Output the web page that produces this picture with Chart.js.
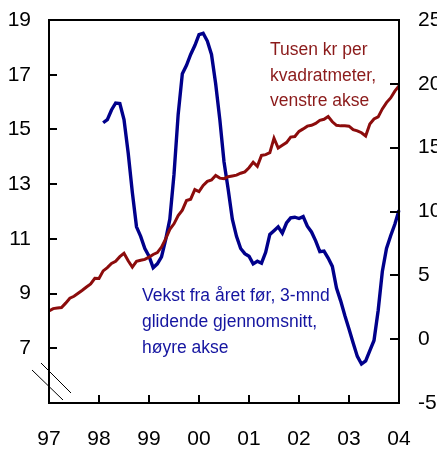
<!DOCTYPE html>
<html>
<head>
<meta charset="utf-8">
<script src="https://cdn.jsdelivr.net/npm/chart.js@4/dist/chart.umd.min.js"></script>
<style>
html,body{margin:0;padding:0;background:#fff;}
canvas{display:block;}
</style>
</head>
<body>
<canvas id="c" width="437" height="449"></canvas>
<script>
// ---- Data (monthly, Jan 1997 .. Jan 2004) ----
const yearLabels = ['97','98','99','00','01','02','03','04'];
const startYear = 1997;
const nMonths = 85;

// Price, thousand NOK per square metre (left axis)
const priceSqm = [
  8.36,8.45,8.47,8.49,8.65,8.83,8.90,9.01,9.12,9.24,9.35,9.56,
  9.55,9.83,9.95,10.10,10.18,10.35,10.47,10.20,9.97,10.18,10.22,10.25,
  10.33,10.43,10.50,10.70,11.00,11.35,11.55,11.85,12.05,12.40,12.45,12.80,
  12.73,12.95,13.10,13.15,13.32,13.22,13.20,13.27,13.30,13.33,13.40,13.45,
  13.60,13.80,13.65,14.05,14.08,14.15,14.68,14.32,14.42,14.52,14.72,14.74,
  14.93,15.02,15.12,15.15,15.22,15.33,15.37,15.47,15.28,15.15,15.13,15.13,
  15.12,14.99,14.95,14.88,14.76,15.20,15.38,15.46,15.75,15.98,16.15,16.40,16.59
];

// Growth from previous year, 3-month moving average, % (right axis)
const growth = [
  null,null,null,null,null,null,null,null,null,null,null,null,
  null,16.95,17.20,17.95,18.50,18.45,17.20,14.60,11.50,8.80,8.05,7.10,
  6.50,5.60,5.90,6.45,7.80,9.40,12.90,17.60,20.80,21.45,22.30,23.00,
  23.85,23.96,23.35,22.30,20.00,17.20,13.90,11.75,9.40,8.05,7.10,6.70,
  6.50,5.90,6.10,5.95,6.80,8.20,8.50,8.80,8.30,9.10,9.50,9.55,
  9.45,9.60,8.85,8.40,7.70,6.85,6.90,6.35,5.70,4.00,3.00,1.85,
  0.80,-0.30,-1.35,-1.95,-1.70,-0.90,-0.10,2.25,5.30,7.10,8.10,9.00,10.10
];

const leftTicks = [7,9,11,13,15,17,19];
const rightTicks = [-5,0,5,10,15,20,25];

const months = [];
for (let i = 0; i < nMonths; i++) {
  const y = startYear + Math.floor(i / 12);
  const m = (i % 12) + 1;
  months.push(y + '-' + (m < 10 ? '0' + m : m));
}

const tickFont = {family:'"Liberation Sans", Arial, sans-serif', size:21};

const RED = '#8c0c0c';
const BLUE = '#00008b';

const framePlugin = {
  id: 'frame',
  afterDatasetsDraw(chart) {
    const ctx = chart.ctx;
    const a = chart.chartArea;
    const x = chart.scales.x, yl = chart.scales.y, yr = chart.scales.y1;
    ctx.save();
    ctx.strokeStyle = '#000';
    ctx.lineWidth = 2;
    ctx.strokeRect(a.left, a.top, a.right - a.left, a.bottom - a.top);
    ctx.beginPath();
    leftTicks.forEach(v => {
      if (v >= 19) return;
      const p = Math.round(yl.getPixelForValue(v));
      ctx.moveTo(a.left, p); ctx.lineTo(a.left + 8, p);
    });
    rightTicks.forEach(v => {
      if (v <= -5 || v >= 25) return;
      const p = Math.round(yr.getPixelForValue(v));
      ctx.moveTo(a.right, p); ctx.lineTo(a.right - 9, p);
    });
    for (let i = 12; i < nMonths - 1; i += 12) {
      const p = Math.round(x.getPixelForValue(i));
      ctx.moveTo(p, a.bottom); ctx.lineTo(p, a.bottom - 8);
    }
    ctx.stroke();
    // axis break marks
    ctx.lineWidth = 1;
    ctx.beginPath();
    ctx.moveTo(32, 370); ctx.lineTo(63, 400);
    ctx.moveTo(41, 363); ctx.lineTo(71, 393);
    ctx.stroke();
    // annotations
    ctx.font = '17.5px "Liberation Sans", Arial, sans-serif';
    ctx.textAlign = 'left';
    ctx.textBaseline = 'alphabetic';
    ctx.fillStyle = '#8b1a1a';
    ctx.fillText('Tusen kr per', 270, 55);
    ctx.fillText('kvadratmeter,', 270, 80.5);
    ctx.fillText('venstre akse', 270, 106);
    ctx.fillStyle = '#1414a0';
    ctx.fillText('Vekst fra året før, 3-mnd', 142, 301);
    ctx.fillText('glidende gjennomsnitt,', 142, 327);
    ctx.fillText('høyre akse', 142, 353);
    ctx.restore();
  }
};

new Chart(document.getElementById('c'), {
  type: 'line',
  data: {
    labels: months,
    datasets: [
      {data: priceSqm, yAxisID: 'y', borderColor: RED, borderWidth: 3, pointRadius: 0, tension: 0, fill: false},
      {data: growth, yAxisID: 'y1', borderColor: BLUE, borderWidth: 3.4, pointRadius: 0, tension: 0, fill: false, spanGaps: false}
    ]
  },
  options: {
    responsive: false,
    animation: false,
    devicePixelRatio: 1,
    layout: {padding: {top: 20, left: 0, right: 0, bottom: 0}},
    plugins: {legend: {display: false}, tooltip: {enabled: false}},
    scales: {
      x: {
        type: 'category',
        grid: {display: false, drawTicks: false},
        border: {display: false},
        ticks: {
          autoSkip: false, maxRotation: 0, minRotation: 0,
          color: '#000', font: tickFont, padding: 24,
          callback: (v, i) => (i % 12 === 0 ? yearLabels[i / 12] : null)
        },
        afterFit: s => { s.height = 46; s.paddingLeft = 0; s.paddingRight = 0; }
      },
      y: {
        position: 'left', min: 5, max: 19,
        grid: {display: false, drawTicks: false}, border: {display: false},
        afterBuildTicks: s => { s.ticks = [5].concat(leftTicks).map(v => ({value: v})); },
        ticks: {color: '#000', font: tickFont, padding: 18,
          callback: v => (v === 5 ? '' : String(v))},
        afterFit: s => { s.width = 49; s.paddingTop = 0; s.paddingBottom = 0; }
      },
      y1: {
        position: 'right', min: -5, max: 25,
        grid: {display: false, drawTicks: false}, border: {display: false},
        afterBuildTicks: s => { s.ticks = rightTicks.map(v => ({value: v})); },
        ticks: {color: '#000', font: tickFont, padding: 19,
          callback: v => String(v)},
        afterFit: s => { s.width = 38; s.paddingTop = 0; s.paddingBottom = 0; }
      }
    }
  },
  plugins: [framePlugin]
});
</script>
</body>
</html>
